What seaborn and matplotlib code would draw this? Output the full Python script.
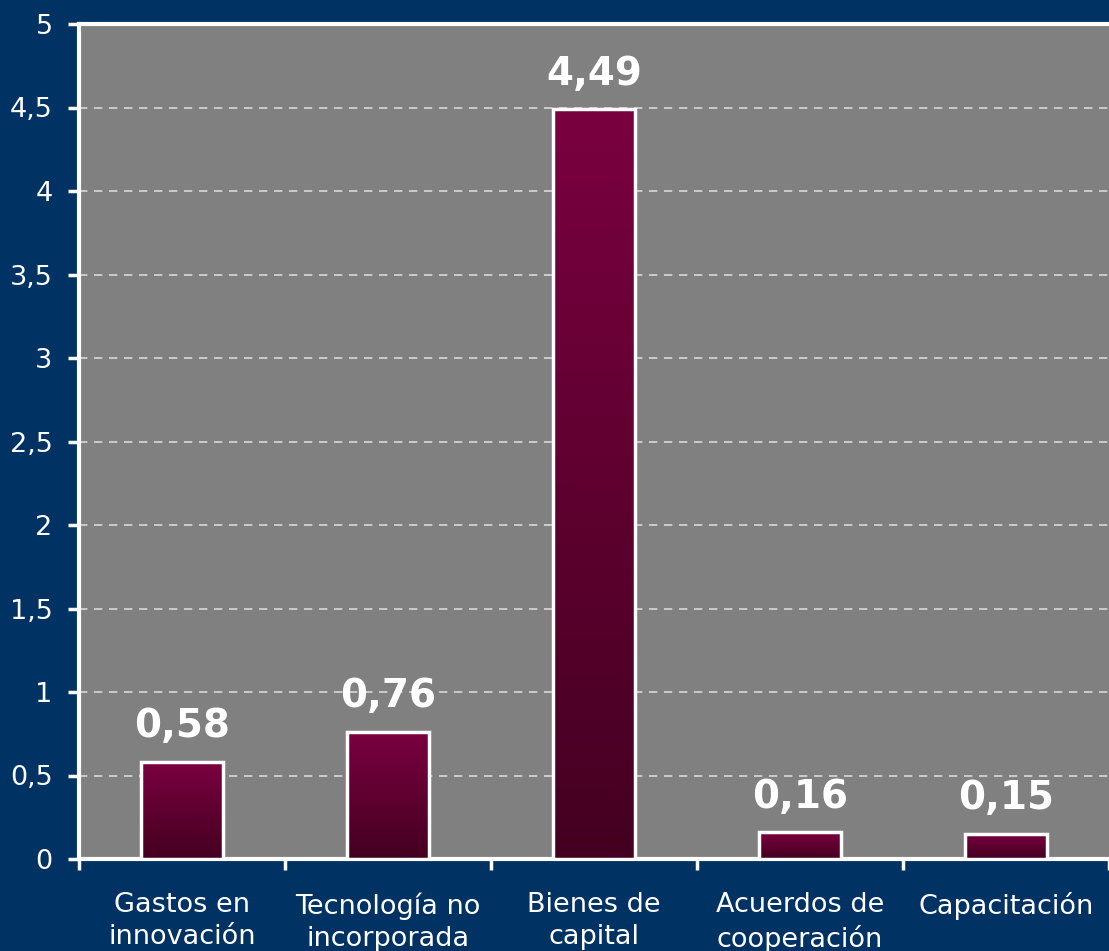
import numpy as np
import pandas as pd
import matplotlib
matplotlib.use("Agg")
import matplotlib.pyplot as plt
import seaborn as sns
from matplotlib.colors import LinearSegmentedColormap
from matplotlib.ticker import FixedLocator

categories = ["Gastos en\ninnovación", "Tecnología no\nincorporada", "Bienes de\ncapital",
              "Acuerdos de\ncooperación", "Capacitación"]
values = [0.58, 0.76, 4.49, 0.16, 0.15]
value_labels = ["0,58", "0,76", "4,49", "0,16", "0,15"]
yticks = [0, 0.5, 1, 1.5, 2, 2.5, 3, 3.5, 4, 4.5, 5]
ytick_labels = ["0", "0,5", "1", "1,5", "2", "2,5", "3", "3,5", "4", "4,5", "5"]

NAVY = "#003263"
PLOT_BG = "#808080"
TOP_C = "#7a0040"
BOT_C = "#440020"

sns.set_theme(style="white")
plt.rcParams["font.family"] = ["DejaVu Sans"]

fig = plt.figure(figsize=(11.09, 9.51), dpi=100, facecolor=NAVY)
ax = fig.add_axes([79/1109, 1 - 859/951, 1 - 79/1109, (859 - 24)/951])
ax.set_facecolor(PLOT_BG)

df = pd.DataFrame({"cat": categories, "val": values})
sns.barplot(data=df, x="cat", y="val", ax=ax, width=0.4, color=TOP_C, zorder=3)

cmap = LinearSegmentedColormap.from_list("g", [BOT_C, TOP_C])
grad = np.linspace(0, 1, 256).reshape(-1, 1)
for p, lab in zip(ax.patches, value_labels):
    x, w, h = p.get_x(), p.get_width(), p.get_height()
    ax.imshow(grad, extent=[x, x + w, 0, h], origin="lower", aspect="auto",
              cmap=cmap, zorder=3, interpolation="bicubic")
    p.set_facecolor("none")
    p.set_edgecolor("white")
    p.set_linewidth(2.5)
    p.set_zorder(4)
    ax.annotate(lab, (x + w / 2, h), xytext=(0, 12), textcoords="offset points",
                ha="center", va="bottom", color="white", fontsize=28,
                fontweight="bold", zorder=5)
ax.set_xlim(-0.5, 4.5)
ax.set_ylim(0, 5)

ax.set_yticks(yticks, ytick_labels)
ax.yaxis.grid(True, color="#d8d8d8", linestyle=(0, (5, 4)), linewidth=1.2, zorder=1)
ax.set_axisbelow(True)

ax.set_xlabel("")
ax.set_ylabel("")
ax.tick_params(axis="x", which="major", length=0, pad=24, labelsize=19.5, labelcolor="white")
ax.xaxis.set_minor_locator(FixedLocator([-0.5, 0.5, 1.5, 2.5, 3.5, 4.5]))
ax.tick_params(axis="x", which="minor", length=8, width=2.5, color="white", direction="out", bottom=True)
ax.tick_params(axis="y", length=8, width=2.5, color="white", direction="out", pad=11,
               labelsize=19.5, labelcolor="white", left=True)
for lab in ax.get_xticklabels():
    lab.set_linespacing(1.3)

for s in ["left", "bottom", "top"]:
    ax.spines[s].set_color("white")
    ax.spines[s].set_linewidth(3)
    ax.spines[s].set_visible(True)
ax.spines["right"].set_visible(False)

fig.savefig("out.png", dpi=100, facecolor=NAVY)
